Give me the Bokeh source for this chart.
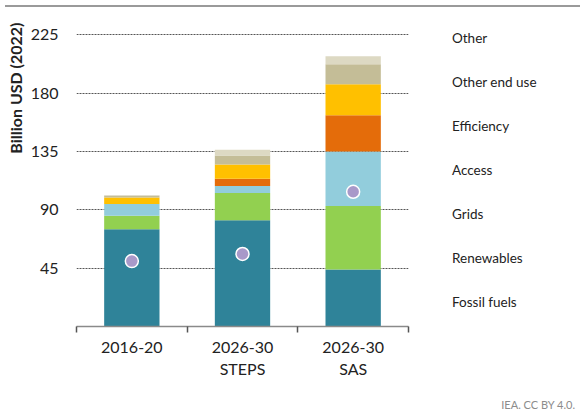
from bokeh.plotting import figure
from bokeh.models import (Range1d, FixedTicker, Legend, LegendItem, Title, Div,
                          ColumnDataSource)
from bokeh.layouts import column, row
from bokeh.embed import file_html
from bokeh.resources import INLINE

# ---- data ----
categories = ["2016-20", "2026-30\nSTEPS", "2026-30\nSAS"]
fossil_fuels = [75.0, 82.0, 44.0]
renewables = [10.5, 21.0, 49.0]
grids = [9.0, 5.5, 42.0]
access = [0.0, 5.5, 28.0]
efficiency = [5.0, 11.0, 24.0]
other_end_use = [1.5, 7.0, 15.5]
other = [0.5, 4.5, 6.0]
private_finance = [50.5, 56.0, 104.0]
y_ticks = [45, 90, 135, 180, 225]

series = ["Fossil fuels", "Renewables", "Grids", "Access", "Efficiency",
          "Other end use", "Other"]
colors = ["#2f8399", "#92d050", "#92cddc", "#e46c0a", "#ffc000",
          "#c4bd97", "#ddd9c3"]
dot_color = "#a899c9"

xs = [i + 0.5 for i in range(len(categories))]
src = ColumnDataSource(dict(
    x=xs,
    **{"Fossil fuels": fossil_fuels, "Renewables": renewables, "Grids": grids,
       "Access": access, "Efficiency": efficiency, "Other end use": other_end_use,
       "Other": other}))

FONT = "Lato"
H = 382

# ---------------- main chart ----------------
p = figure(width=410, height=H, output_backend="svg", toolbar_location=None,
           x_range=Range1d(0, len(categories)), y_range=Range1d(0, 230),
           min_border_left=67, min_border_right=2, min_border_top=16,
           min_border_bottom=68)
p.outline_line_color = None

p.vbar_stack(series, x="x", width=0.5, source=src, color=colors, line_color=None)
p.scatter(xs, private_finance, size=13, fill_color=dot_color,
          line_color="white", line_width=1.5)

p.yaxis.ticker = FixedTicker(ticks=y_ticks)
p.yaxis.axis_line_color = None
p.yaxis.major_tick_line_color = None
p.yaxis.minor_tick_line_color = None
p.yaxis.major_label_standoff = 12
p.yaxis.major_label_text_font = FONT
p.yaxis.major_label_text_font_size = "16px"
p.yaxis.major_label_text_color = "#222222"

p.xaxis.ticker = FixedTicker(ticks=xs, minor_ticks=list(range(len(categories) + 1)))
p.xaxis.major_label_overrides = {x: c for x, c in zip(xs, categories)}
p.xaxis.major_tick_line_color = None
p.xaxis.minor_tick_in = 0
p.xaxis.minor_tick_out = 6
p.xaxis.minor_tick_line_color = "#555555"
p.xaxis.minor_tick_line_width = 1.5
p.xaxis.axis_line_color = "#8a8a8a"
p.xaxis.axis_line_width = 1.5
p.xaxis.major_label_standoff = 4
p.xaxis.major_label_text_font = FONT
p.xaxis.major_label_text_font_size = "16px"
p.xaxis.major_label_text_color = "#222222"

p.xgrid.grid_line_color = None
p.ygrid.ticker = FixedTicker(ticks=y_ticks)
p.ygrid.grid_line_color = "#555555"
p.ygrid.grid_line_dash = "2 1"
p.ygrid.grid_line_width = 1

ytitle = Title(text="Billion USD (2022)", align="right", text_font=FONT,
               text_font_style="bold", text_font_size="16px",
               text_color="#222222", standoff=6, offset=-6)
p.add_layout(ytitle, "left")

# ---------------- legend panel ----------------
p2 = figure(width=165, height=H, output_backend="svg", toolbar_location=None,
            x_range=Range1d(0, 1), y_range=Range1d(0, 1),
            min_border_left=29, min_border_top=15, min_border_right=0,
            min_border_bottom=0, x_axis_type=None, y_axis_type=None)
p2.outline_line_color = None
p2.xgrid.visible = False
p2.ygrid.visible = False

leg_renderers = []
for name, c in zip(series, colors):
    leg_renderers.append((name, p2.vbar(x=[], top=[], width=0.5, color=c,
                                        line_color=None)))
dot_r = p2.scatter(x=[], y=[], size=8, fill_color=dot_color, line_color="white")

items = [LegendItem(label=n, renderers=[r]) for n, r in leg_renderers[::-1]]
items.append(LegendItem(label="Amount of private\nfinance", renderers=[dot_r]))
legend = Legend(items=items, location="top_left", margin=0, padding=0,
                border_line_color=None, background_fill_alpha=0,
                glyph_width=10, glyph_height=10, label_height=20,
                spacing=24, label_standoff=3,
                label_text_font=FONT, label_text_font_size="13.5px",
                label_text_color="#222222")
p2.add_layout(legend, "center")

top_line = Div(width=575, height=2, styles={"background-color": "#9a9a9a"})
footer = Div(text="IEA. CC BY 4.0.", width=570, height=12,
             styles={"text-align": "right", "font-size": "11px",
                     "color": "#8c8c8c", "font-family": "Lato",
                     "line-height": "12px"})
layout = column(top_line, row(p, p2, spacing=0), footer, spacing=0)

open("out.html", "w").write(file_html(layout, INLINE))
